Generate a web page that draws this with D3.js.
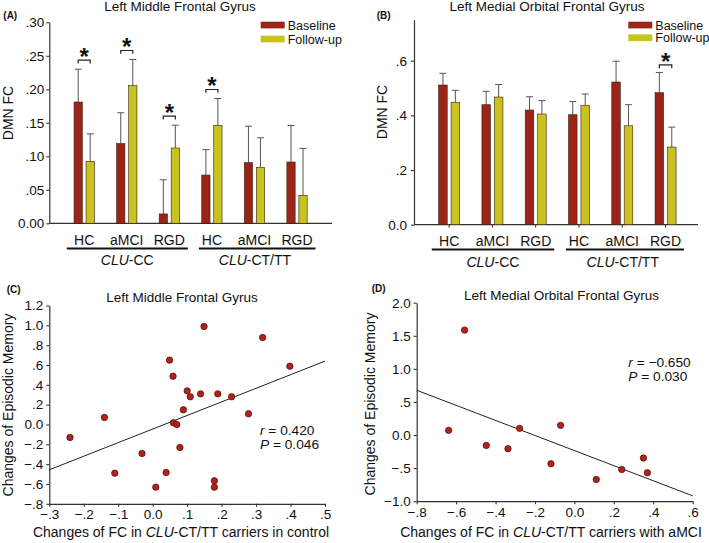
<!DOCTYPE html>
<html><head><meta charset="utf-8">
<script src="https://cdn.jsdelivr.net/npm/d3@7"></script>
<style>
body{margin:0;background:#fff}
svg{display:block}
text{font-family:"Liberation Sans",Arial,sans-serif;fill:#111}
</style>
</head><body>
<svg id="c" width="709" height="543"></svg>
<script>
// ---------- DATA ----------
const categories = ["HC","aMCI","RGD","HC","aMCI","RGD"];
const genotypeGroups = [{italic:"CLU", rest:"-CC"}, {italic:"CLU", rest:"-CT/TT"}];
const series = ["Baseline","Follow-up"];

// Panel A: Left Middle Frontal Gyrus
const aBaseline   = [0.181, 0.119, 0.014, 0.072, 0.0905, 0.0915];
const aBaselineSE = [0.049, 0.046, 0.051, 0.038, 0.0545, 0.0545];
const aFollow     = [0.0925, 0.2055, 0.1124, 0.1463, 0.0836, 0.0418];
const aFollowSE   = [0.041, 0.039, 0.034, 0.040, 0.044, 0.070];
const aSignificant = [true, true, true, true, false, false];
const aTicks = [0, 0.05, 0.10, 0.15, 0.20, 0.25, 0.30];
const aTickLabels = ["0.00", ".05", ".10", ".15", ".20", ".25", ".30"];

// Panel B: Left Medial Orbital Frontal Gyrus
const bBaseline   = [0.511, 0.439, 0.4195, 0.4024, 0.522, 0.483];
const bBaselineSE = [0.043, 0.049, 0.0485, 0.048, 0.076, 0.074];
const bFollow     = [0.448, 0.467, 0.405, 0.437, 0.362, 0.284];
const bFollowSE   = [0.0435, 0.046, 0.049, 0.041, 0.077, 0.073];
const bSignificant = [false, false, false, false, false, true];
const bTicks = [0, 0.2, 0.4, 0.6];
const bTickLabels = ["0.0", ".2", ".4", ".6"];

// Panel C: scatter, CLU-CT/TT carriers in control
const cX = [-0.240, -0.140, -0.110, -0.031, 0.009, 0.039, 0.049, 0.059, 0.060, 0.070, 0.079, 0.089,
            0.100, 0.109, 0.139, 0.149, 0.179, 0.179, 0.189, 0.229, 0.278, 0.319, 0.398];
const cY = [-0.131, 0.071, -0.491, -0.292, -0.632, -0.484, 0.649, 0.487, 0.017, 0.000, -0.232, 0.148,
            0.339, 0.279, 0.309, 0.988, -0.568, -0.632, 0.309, 0.279, 0.108, 0.877, 0.588];
const cFit = {slope: 1.37, intercept: -0.046};
const cStats = {r: "0.420", p: "0.046"};
const cXTicks = [-0.3, -0.2, -0.1, 0, 0.1, 0.2, 0.3, 0.4, 0.5];
const cXTickLabels = ["\u2212.3", "\u2212.2", "\u2212.1", "0.0", ".1", ".2", ".3", ".4", ".5"];
const cYTicks = [-0.8, -0.6, -0.4, -0.2, 0, 0.2, 0.4, 0.6, 0.8, 1.0, 1.2];
const cYTickLabels = ["\u2212.8", "\u2212.6", "\u2212.4", "\u2212.2", "0.0", ".2", ".4", ".6", ".8", "1.0", "1.2"];

// Panel D: scatter, CLU-CT/TT carriers with aMCI
const dX = [-0.638, -0.557, -0.447, -0.337, -0.278, -0.119, -0.070, 0.111, 0.240, 0.350, 0.370];
const dY = [0.071, 1.586, -0.157, -0.207, 0.101, -0.434, 0.146, -0.672, -0.520, -0.348, -0.571];
const dFit = {slope: -1.14, intercept: -0.235};
const dStats = {r: "\u22120.650", p: "0.030"};
const dXTicks = [-0.8, -0.6, -0.4, -0.2, 0, 0.2, 0.4, 0.6];
const dXTickLabels = ["\u2212.8", "\u2212.6", "\u2212.4", "\u2212.2", "0.0", ".2", ".4", ".6"];
const dYTicks = [-1.0, -0.5, 0, 0.5, 1.0, 1.5, 2.0];
const dYTickLabels = ["\u22121.0", "\u2212.5", "0.0", ".5", "1.0", "1.5", "2.0"];

// ---------- DRAWING ----------
const svg = d3.select("#c");
const RED = "#9b2418", YEL = "#c9c21f", AX = "#333";
const colors = {"Baseline": RED, "Follow-up": YEL};

function label(g, x, y, s, size, opt = {}) {
  const t = g.append("text").attr("x", x).attr("y", y).attr("font-size", size + "px")
    .attr("text-anchor", opt.anchor || "start").text(s);
  if (opt.bold) t.attr("font-weight", "bold");
  if (opt.rotate) t.attr("transform", `rotate(-90,${x},${y})`);
  return t;
}

function styleAxis(sel, size) {
  sel.selectAll("path.domain").attr("stroke", AX).attr("stroke-width", 1.2);
  sel.selectAll(".tick line").attr("stroke", AX).attr("stroke-width", 1.1);
  sel.selectAll(".tick text").attr("font-size", size + "px").attr("fill", "#111")
     .attr("font-family", '"Liberation Sans",Arial,sans-serif');
}

function barPanel(p) {
  const g = svg.append("g");
  const y = d3.scaleLinear().domain(p.yDomain).range([p.yBottom, p.yTop]);
  const x = d3.scaleBand().domain(d3.range(categories.length)).range(p.xRange);
  const sub = d3.scaleBand().domain(series).range([-p.half, p.half]).paddingInner(0.31);

  const ya = d3.axisLeft(y).tickValues(p.ticks).tickFormat((d, i) => p.tickLabels[i])
    .tickSize(3).tickPadding(p.tickPad).tickSizeOuter(0);
  const yg = g.append("g").attr("transform", `translate(${p.axisX},0)`).call(ya);
  styleAxis(yg, 13.5);

  // x axis baseline
  g.append("line").attr("x1", p.axisX).attr("x2", p.axisEnd).attr("y1", y(0)).attr("y2", y(0))
    .attr("stroke", AX).attr("stroke-width", 1.2);
  if (p.catTicks) {
    categories.forEach((c, i) => {
      const cx = x(i) + x.bandwidth() / 2;
      g.append("line").attr("x1", cx).attr("x2", cx).attr("y1", y(0)).attr("y2", y(0) + 3)
        .attr("stroke", AX).attr("stroke-width", 1);
    });
  }

  const data = [
    {s: "Baseline", v: p.base, se: p.baseSE},
    {s: "Follow-up", v: p.fol, se: p.folSE}
  ];
  categories.forEach((c, i) => {
    const cx0 = x(i) + x.bandwidth() / 2;
    data.forEach(d => {
      const bx = cx0 + sub(d.s);
      const w = sub.bandwidth();
      const bc = bx + w / 2;
      const top = y(d.v[i] + d.se[i]);
      g.append("line").attr("x1", bc).attr("x2", bc).attr("y1", y(d.v[i])).attr("y2", top)
        .attr("stroke", "#555").attr("stroke-width", 1);
      g.append("line").attr("x1", bc - 3.5).attr("x2", bc + 3.5).attr("y1", top).attr("y2", top)
        .attr("stroke", "#555").attr("stroke-width", 1);
      g.append("rect").attr("x", bx).attr("y", y(d.v[i])).attr("width", w)
        .attr("height", y(0) - y(d.v[i])).attr("fill", colors[d.s])
        .attr("stroke", "#3a2010").attr("stroke-width", 0.6);
    });
    if (p.sig[i]) {
      const b0 = cx0 + sub("Baseline") + sub.bandwidth() / 2;
      const b1 = cx0 + sub("Follow-up") + sub.bandwidth() / 2;
      const mx = Math.max(p.base[i] + p.baseSE[i], p.fol[i] + p.folSE[i]);
      const yb = y(mx) - p.brGap;
      g.append("path").attr("d", `M${b0},${yb + 3.3}V${yb}H${b1}V${yb + 3.3}`)
        .attr("fill", "none").attr("stroke", "#222").attr("stroke-width", 1.2);
      label(g, (b0 + b1) / 2, yb + 4.8, "*", 24, {anchor: "middle", bold: true});
    }
    // category label
    label(g, cx0, p.catY, c, 14, {anchor: "middle"});
  });

  // genotype group lines and labels
  genotypeGroups.forEach((gg, k) => {
    const i0 = k * 3, i1 = k * 3 + 2;
    const c0 = x(i0) + x.bandwidth() / 2, c1 = x(i1) + x.bandwidth() / 2;
    const x0 = c0 - (k === 0 ? 17.4 : 13), x1 = c1 + 18.5;
    g.append("line").attr("x1", x0).attr("x2", x1).attr("y1", p.grpLineY).attr("y2", p.grpLineY)
      .attr("stroke", "#111").attr("stroke-width", 1.8);
    const t = label(g, (c0 + c1) / 2 + 0.5, p.grpY, "", 14, {anchor: "middle"});
    t.append("tspan").attr("font-style", "italic").text(gg.italic);
    t.append("tspan").text(gg.rest);
  });

  // legend
  series.forEach((s, k) => {
    const ly = p.legY[k];
    g.append("rect").attr("x", p.legX).attr("y", ly - 3.3).attr("width", 24).attr("height", 6.7)
      .attr("fill", colors[s]);
    label(g, p.legX + 27, ly + 4.6, s, 12.5);
  });

  // titles
  label(g, p.titleX, 11, p.title, 13.5, {anchor: "middle"});
  label(g, p.letterX, 19, p.letter, 10, {bold: true});
  label(g, p.ylabX, p.ylabY, "DMN FC", 14, {anchor: "middle", rotate: true});
}

barPanel({
  base: aBaseline, baseSE: aBaselineSE, fol: aFollow, folSE: aFollowSE, sig: aSignificant,
  yDomain: [0, 0.30], yBottom: 223.3, yTop: 22.3, ticks: aTicks, tickLabels: aTickLabels, tickPad: 2,
  xRange: [62.9, 318.3], half: 10.15, axisX: 49.3, axisEnd: 332, catTicks: false,
  brGap: 9, catY: 244.5, grpLineY: 248.5, grpY: 265,
  legX: 260.7, legY: [25, 39],
  title: "Left Middle Frontal Gyrus", titleX: 180, letter: "(A)", letterX: 3.3,
  ylabX: 13, ylabY: 113
});

barPanel({
  base: bBaseline, baseSE: bBaselineSE, fol: bFollow, folSE: bFollowSE, sig: bSignificant,
  yDomain: [0, 0.75], yBottom: 224.7, yTop: 19.7, ticks: bTicks, tickLabels: bTickLabels, tickPad: 4,
  xRange: [427.5, 687.2], half: 10.5, axisX: 414, axisEnd: 698, catTicks: true,
  brGap: 7.5, catY: 245.5, grpLineY: 249.5, grpY: 266.5,
  legX: 628.3, legY: [25, 37.7],
  title: "Left Medial Orbital Frontal Gyrus", titleX: 547, letter: "(B)", letterX: 376.7,
  ylabX: 387, ylabY: 112
});

function scatterPanel(p) {
  const g = svg.append("g");
  const x = d3.scaleLinear().domain(p.xDomain).range([p.x0, p.x1]);
  const y = d3.scaleLinear().domain(p.yDomain).range([p.y0, p.y1]);
  const xa = d3.axisBottom(x).tickValues(p.xTicks).tickFormat((d, i) => p.xTickLabels[i])
    .tickSize(3).tickPadding(3).tickSizeOuter(0);
  const ya = d3.axisLeft(y).tickValues(p.yTicks).tickFormat((d, i) => p.yTickLabels[i])
    .tickSize(3).tickPadding(3).tickSizeOuter(0);
  const xg = g.append("g").attr("transform", `translate(0,${p.y0})`).call(xa);
  const yg = g.append("g").attr("transform", `translate(${p.x0},0)`).call(ya);
  styleAxis(xg, 13.5); styleAxis(yg, 13.5);

  const [xa0, xa1] = p.xDomain;
  g.append("line")
    .attr("x1", x(xa0)).attr("y1", y(p.fit.intercept + p.fit.slope * xa0))
    .attr("x2", x(xa1)).attr("y2", y(p.fit.intercept + p.fit.slope * xa1))
    .attr("stroke", "#222").attr("stroke-width", 1);

  g.selectAll("circle.pt").data(p.xs).enter().append("circle")
    .attr("cx", d => x(d)).attr("cy", (d, i) => y(p.ys[i])).attr("r", 3.2)
    .attr("fill", "#b0231b").attr("stroke", "#4a0c08").attr("stroke-width", 0.7);

  const t1 = label(g, p.statX, p.statY, "", 13.7);
  t1.append("tspan").attr("font-style", "italic").text("r");
  t1.append("tspan").text(" = " + p.stats.r);
  const t2 = label(g, p.statX, p.statY + 14, "", 13.7);
  t2.append("tspan").attr("font-style", "italic").text("P");
  t2.append("tspan").text(" = " + p.stats.p);

  label(g, p.titleX, p.titleY, p.title, 13.5, {anchor: "middle"});
  label(g, p.letterX, p.letterY, p.letter, 10, {bold: true});
  label(g, p.ylabX, p.ylabY, "Changes of Episodic Memory", 14, {anchor: "middle", rotate: true});
  const xl = label(g, p.xlabX, 537, "", 14, {anchor: "middle"});
  xl.append("tspan").text("Changes of FC in ");
  xl.append("tspan").attr("font-style", "italic").text("CLU");
  xl.append("tspan").text("-CT/TT carriers " + p.xlabTail);
}

scatterPanel({
  xs: cX, ys: cY, fit: cFit, stats: cStats,
  xDomain: [-0.3, 0.5], yDomain: [-0.8, 1.2], x0: 49.3, x1: 325, y0: 503.8, y1: 305.5,
  xTicks: cXTicks, xTickLabels: cXTickLabels, yTicks: cYTicks, yTickLabels: cYTickLabels,
  statX: 260, statY: 434.5,
  title: "Left Middle Frontal Gyrus", titleX: 182, titleY: 301.5, letter: "(C)", letterX: 6.7, letterY: 293,
  ylabX: 12.5, ylabY: 405, xlabX: 181, xlabTail: "in control"
});

scatterPanel({
  xs: dX, ys: dY, fit: dFit, stats: dStats,
  xDomain: [-0.8, 0.6], yDomain: [-1.0, 2.0], x0: 416.7, x1: 692.7, y0: 501.2, y1: 302.7,
  xTicks: dXTicks, xTickLabels: dXTickLabels, yTicks: dYTicks, yTickLabels: dYTickLabels,
  statX: 628.3, statY: 366.5,
  title: "Left Medial Orbital Frontal Gyrus", titleX: 561.5, titleY: 300, letter: "(D)", letterX: 371.7, letterY: 291.7,
  ylabX: 374.5, ylabY: 404, xlabX: 551, xlabTail: "with aMCI"
});
</script>
</body></html>
